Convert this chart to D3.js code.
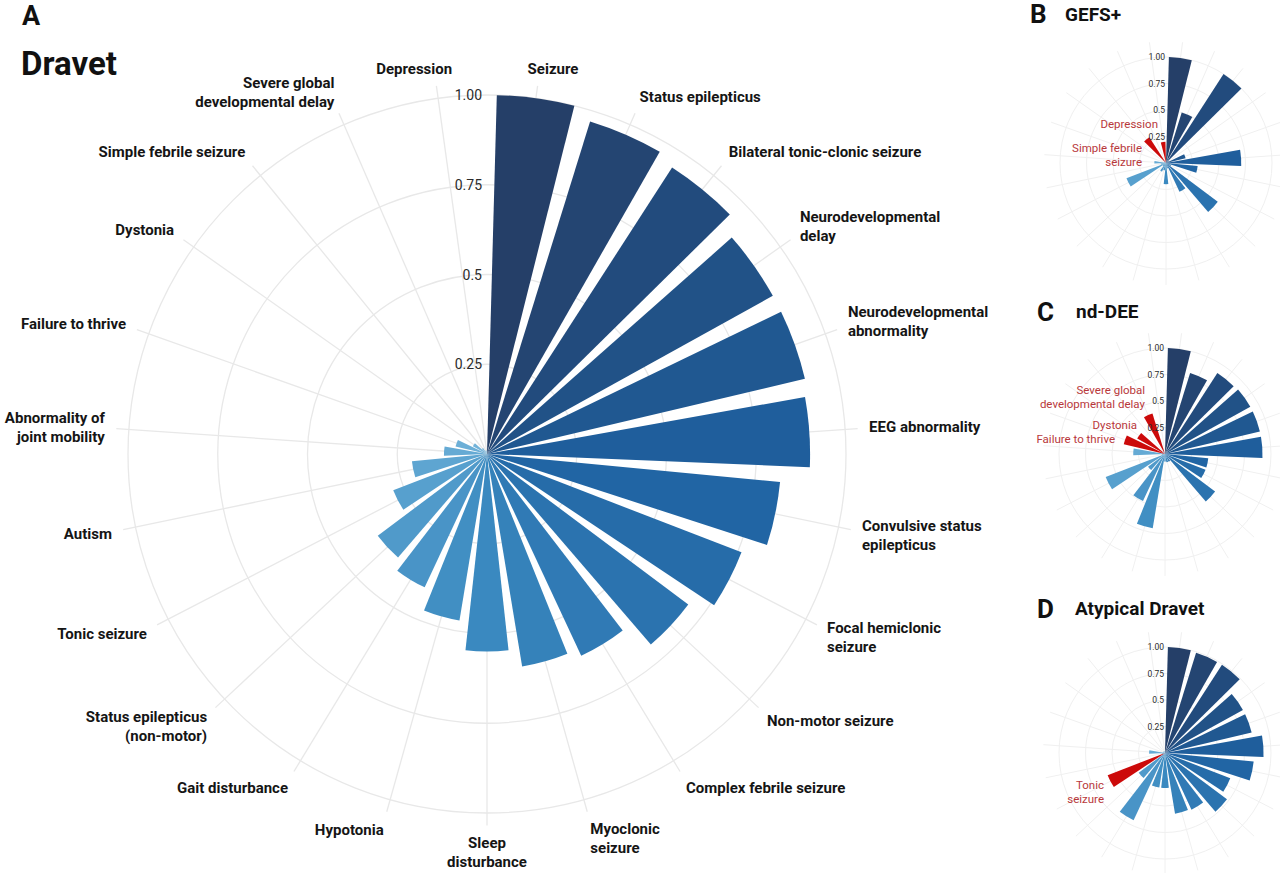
<!DOCTYPE html>
<html>
<head>
<meta charset="utf-8">
<script src="https://cdn.jsdelivr.net/npm/d3@7"></script>
<style>
  body { margin: 0; background: #fff; }
  svg { font-family: Roboto, "DejaVu Sans", sans-serif; }
</style>
</head>
<body>
<svg width="1280" height="873"></svg>
<script>
// categories in the order used by every panel (clockwise from 12 o'clock)
const categories = [
  "Seizure", "Status epilepticus", "Bilateral tonic-clonic seizure",
  "Neurodevelopmental delay", "Neurodevelopmental abnormality", "EEG abnormality",
  "Convulsive status epilepticus", "Focal hemiclonic seizure", "Non-motor seizure",
  "Complex febrile seizure", "Myoclonic seizure", "Sleep disturbance", "Hypotonia",
  "Gait disturbance", "Status epilepticus (non-motor)", "Tonic seizure", "Autism",
  "Abnormality of joint mobility", "Failure to thrive", "Dystonia",
  "Simple febrile seizure", "Severe global developmental delay", "Depression"
];

// label text as printed round panel A (\n = line break)
const categoryLabels = [
  "Seizure", "Status epilepticus", "Bilateral tonic-clonic seizure",
  "Neurodevelopmental\ndelay", "Neurodevelopmental\nabnormality", "EEG abnormality",
  "Convulsive status\nepilepticus", "Focal hemiclonic\nseizure", "Non-motor seizure",
  "Complex febrile seizure", "Myoclonic\nseizure", "Sleep\ndisturbance", "Hypotonia",
  "Gait disturbance", "Status epilepticus\n(non-motor)", "Tonic seizure", "Autism",
  "Abnormality of\njoint mobility", "Failure to thrive", "Dystonia",
  "Simple febrile seizure", "Severe global\ndevelopmental delay", "Depression"
];

// relative frequencies
const dravet   = [1.00, 0.97, 0.95, 0.91, 0.91, 0.90, 0.82, 0.76, 0.70, 0.62, 0.60, 0.55,
                  0.47, 0.41, 0.38, 0.28, 0.21, 0.12, 0.09, 0.045, 0.02, 0.01, 0.01];
const gefsPlus = [1.00, 0.50, 1.00, 0.03, 0.19, 0.71, 0.30, 0.05, 0.61, 0.30, 0.05, 0.20,
                  0.07, 0.09, 0.04, 0.40, 0.05, 0.11, 0.02, 0.02, 0.29, 0.02, 0.20];
const ndDee    = [1.00, 0.80, 0.91, 0.92, 0.92, 0.92, 0.41, 0.41, 0.59, 0.08, 0.08, 0.07,
                  0.71, 0.49, 0.20, 0.60, 0.03, 0.30, 0.40, 0.30, 0.03, 0.40, 0.02];
const atypical = [1.00, 0.99, 0.99, 0.84, 0.84, 0.93, 0.84, 0.66, 0.73, 0.59, 0.58, 0.33,
                  0.33, 0.70, 0.31, 0.58, 0.03, 0.15, 0.02, 0.02, 0.02, 0.02, 0.02];

const tickValues = [0.25, 0.5, 0.75, 1.0];
const tickLabels = ["0.25", "0.5", "0.75", "1.00"];

// red features per small panel
const highlightB = ["Simple febrile seizure", "Depression"];
const highlightC = ["Failure to thrive", "Dystonia", "Severe global developmental delay"];
const highlightD = ["Tonic seizure"];

const svg = d3.select("svg");

// bar colour follows the category's rank in Dravet
const colour = d3.scaleLinear()
  .domain([0, 5.5, 11, 16.5, 22])
  .range(["#253f68", "#1e61a1", "#3a89c0", "#62a8d3", "#88c0e1"])
  .interpolate(d3.interpolateRgb);
const highlightRed = "#cc0a0a";

const angle = d3.scaleBand()
  .domain(categories)
  .range([0, 2 * Math.PI])
  .paddingInner(0.2)
  .paddingOuter(0.1);

const mid = c => angle(c) + angle.bandwidth() / 2;

function drawPolar(g, values, r1, opts) {
  const radius = d3.scaleLinear().domain([0, 1]).range([0, r1]);
  const data = categories.map((c, i) => ({ cat: c, i: i, v: values[i] }));

  // grid
  g.append("g").selectAll("circle")
    .data(tickValues)
    .join("circle")
    .attr("r", d => radius(d))
    .attr("fill", "none")
    .attr("stroke", opts.gridColour)
    .attr("stroke-width", opts.gridWidth);

  g.append("g").selectAll("line")
    .data(categories)
    .join("line")
    .attr("x1", 0).attr("y1", 0)
    .attr("x2", c => Math.sin(mid(c)) * radius(opts.spokeTo))
    .attr("y2", c => -Math.cos(mid(c)) * radius(opts.spokeTo))
    .attr("stroke", opts.gridColour)
    .attr("stroke-width", opts.gridWidth);

  // bars
  const arc = d3.arc()
    .innerRadius(0)
    .outerRadius(d => radius(d.v))
    .startAngle(d => angle(d.cat))
    .endAngle(d => angle(d.cat) + angle.bandwidth());

  g.append("g").selectAll("path")
    .data(data)
    .join("path")
    .attr("d", arc)
    .attr("fill", d => opts.highlight.includes(d.cat) ? highlightRed : colour(d.i));

  // radial tick labels
  g.append("g").selectAll("text")
    .data(tickValues)
    .join("text")
    .attr("x", opts.tickDx)
    .attr("y", d => -radius(d))
    .attr("dy", "0.36em")
    .attr("text-anchor", "end")
    .attr("font-size", opts.tickSize)
    .attr("fill", "#2b2b2b")
    .text((d, i) => tickLabels[i]);

  return radius;
}

// ---------- panel A ----------
const cxA = 487, cyA = 454, r1A = 359;
const gA = svg.append("g").attr("transform", `translate(${cxA},${cyA})`);
drawPolar(gA, dravet, r1A, {
  gridColour: "#e8e8e8", gridWidth: 1.3, spokeTo: 1.035,
  highlight: [], tickDx: -5, tickSize: 14
});

// category labels round A
const labelR = 383, fs = 15, lh = 19;
categoryLabels.forEach((lab, i) => {
  const th = mid(categories[i]);
  const ax = Math.sin(th) * labelR, ay = -Math.cos(th) * labelR;
  const c = Math.cos(th);
  const hj = Math.max(0, Math.min(1, 0.5 - 2 * Math.sin(th)));
  const vj = 0.5 - (c > 0 ? 0.3 : 0.42) * c;
  const lines = lab.split("\n");
  const t = gA.append("text")
    .attr("font-size", fs)
    .attr("font-weight", 700)
    .attr("fill", "#151515");
  const spans = lines.map(l => t.append("tspan").text(l));
  const widths = spans.map(s => s.node().getComputedTextLength());
  const W = d3.max(widths), H = lines.length * lh;
  const left = ax - hj * W, top = ay - (1 - vj) * H;
  spans.forEach((s, k) => {
    let x, anchor;
    if (hj < 0.45) { x = left; anchor = "start"; }
    else if (hj > 0.55) { x = left + W; anchor = "end"; }
    else { x = left + W / 2; anchor = "middle"; }
    s.attr("x", x).attr("y", top + k * lh + 14.5).attr("text-anchor", anchor);
  });
});

svg.append("text").attr("x", 22).attr("y", 25)
  .attr("font-size", 27).attr("font-weight", 700).attr("fill", "#111").text("A");
svg.append("text").attr("x", 21).attr("y", 75)
  .attr("font-size", 33).attr("font-weight", 700).attr("fill", "#111").text("Dravet");

// ---------- panels B, C, D ----------
const smallPanels = [
  { letter: "B", title: "GEFS+", values: gefsPlus, highlight: highlightB,
    cx: 1166, cy: 163, letterX: 1030, letterY: 23, titleX: 1065, titleY: 21,
    notes: [
      { lines: ["Depression"], dx: -8, dy: -39 },
      { lines: ["Simple febrile", "seizure"], dx: -24, dy: -15 }
    ] },
  { letter: "C", title: "nd-DEE", values: ndDee, highlight: highlightC,
    cx: 1165, cy: 454, letterX: 1037, letterY: 321, titleX: 1076, titleY: 318,
    notes: [
      { lines: ["Severe global", "developmental delay"], dx: -20, dy: -64 },
      { lines: ["Dystonia"], dx: -28, dy: -29 },
      { lines: ["Failure to thrive"], dx: -50, dy: -15 }
    ] },
  { letter: "D", title: "Atypical Dravet", values: atypical, highlight: highlightD,
    cx: 1165, cy: 753, letterX: 1037, letterY: 618, titleX: 1075, titleY: 615,
    notes: [
      { lines: ["Tonic", "seizure"], dx: -61, dy: 32 }
    ] }
];

smallPanels.forEach(p => {
  const g = svg.append("g").attr("transform", `translate(${p.cx},${p.cy})`);
  drawPolar(g, p.values, 106, {
    gridColour: "#f0f0f0", gridWidth: 1, spokeTo: 1.15,
    highlight: p.highlight, tickDx: -1, tickSize: 8.5
  });
  p.notes.forEach(n => {
    const t = g.append("text")
      .attr("text-anchor", "end")
      .attr("font-size", 11.5)
      .attr("fill", "#b8383b");
    n.lines.forEach((l, k) => {
      t.append("tspan").attr("x", n.dx).attr("y", n.dy + k * 13.5).attr("dy", "0.36em").text(l);
    });
  });
  svg.append("text").attr("x", p.letterX).attr("y", p.letterY)
    .attr("font-size", 26).attr("font-weight", 700).attr("fill", "#111").text(p.letter);
  svg.append("text").attr("x", p.titleX).attr("y", p.titleY)
    .attr("font-size", 19).attr("font-weight", 700).attr("fill", "#111").text(p.title);
});
</script>
</body>
</html>
